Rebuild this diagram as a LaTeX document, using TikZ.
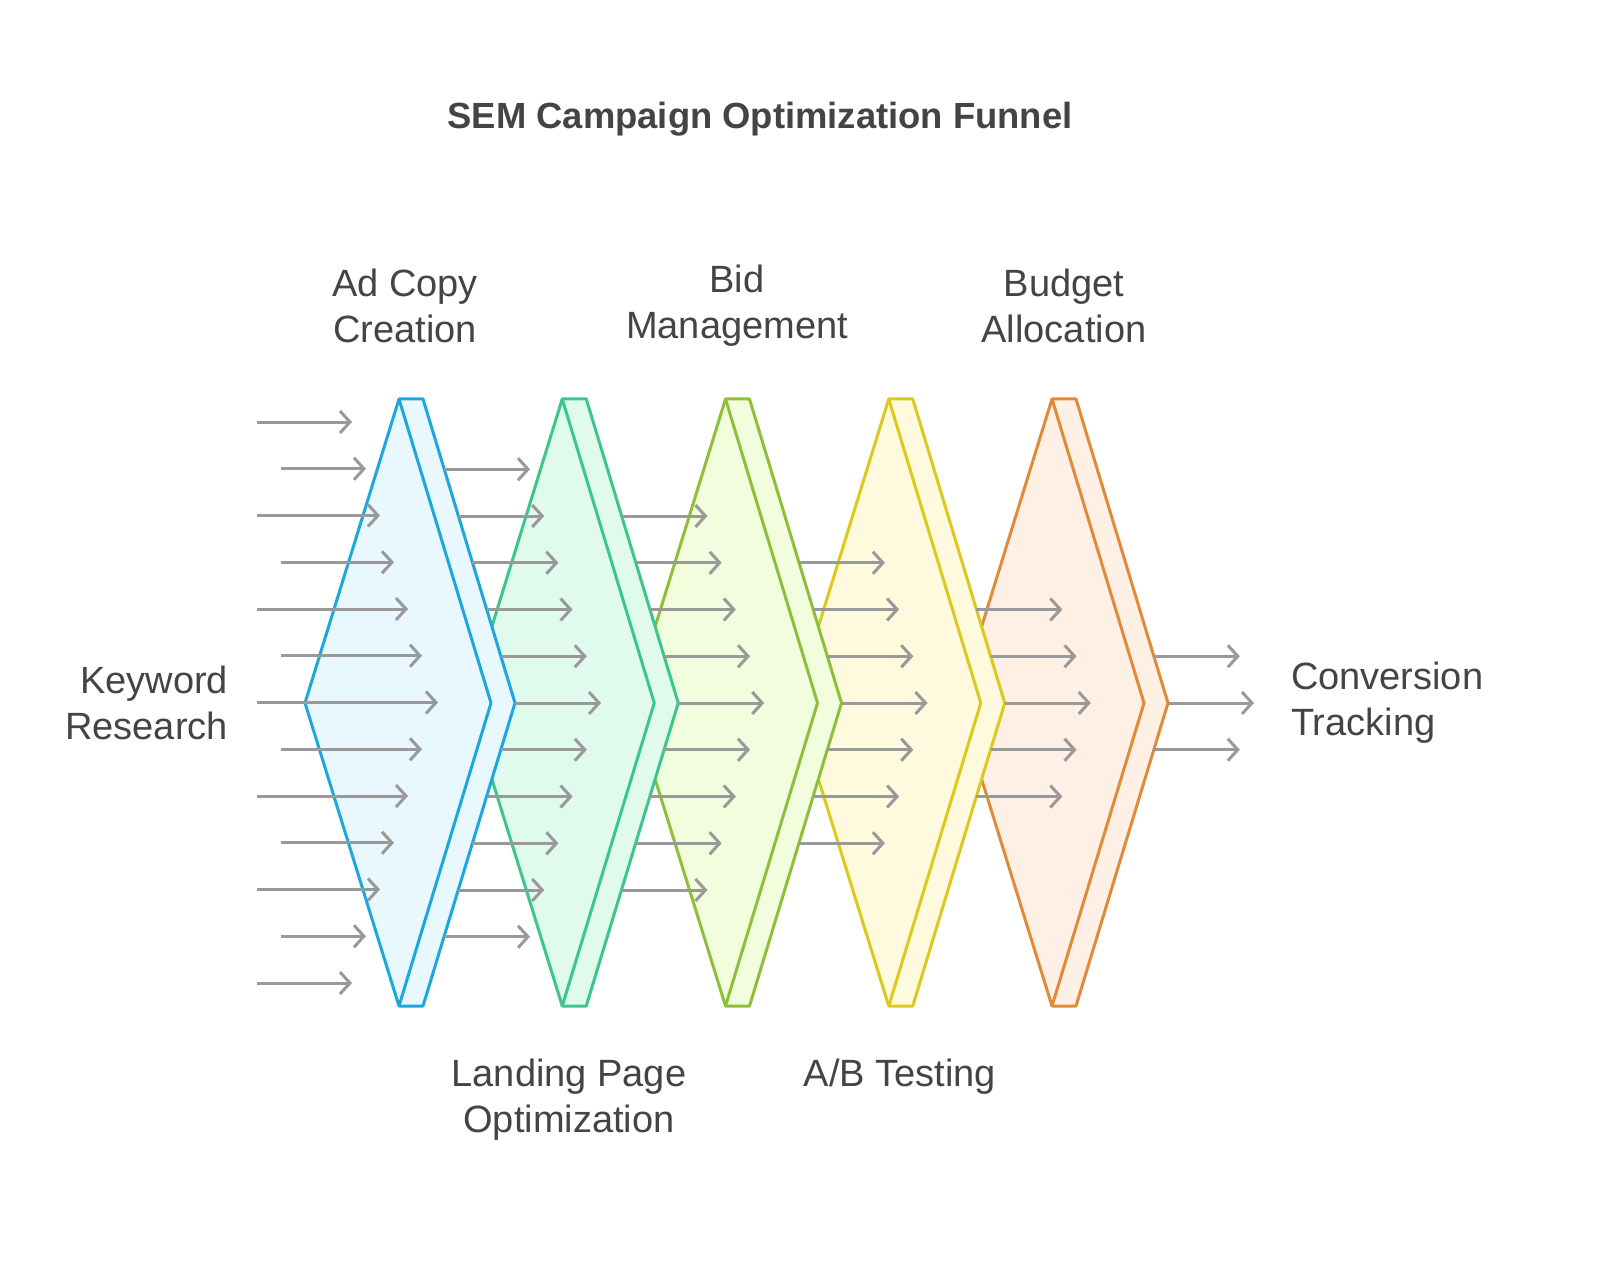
\documentclass[tikz,border=0pt]{standalone}
\usepackage{fontspec}
\setmainfont{Liberation Sans}
\usetikzlibrary{arrows.meta}
\definecolor{txt}{HTML}{444444}
\definecolor{arr}{HTML}{999999}
\definecolor{s1}{HTML}{1EA7DC}\definecolor{f1}{HTML}{E8F8FE}
\definecolor{s2}{HTML}{3CC68A}\definecolor{f2}{HTML}{E0FBEE}
\definecolor{s3}{HTML}{8DBF3A}\definecolor{f3}{HTML}{F1FDDD}
\definecolor{s4}{HTML}{DEC81B}\definecolor{f4}{HTML}{FFFADD}
\definecolor{s5}{HTML}{E08A3A}\definecolor{f5}{HTML}{FEF0E4}
\tikzset{
  flow/.style={draw=arr,line width=1.5pt,-{Straight Barb[length=5pt,width=11pt]}},
  lbl/.style={text=txt,font=\fontsize{19}{23}\selectfont,align=center},
}
\begin{document}
\begin{tikzpicture}[x=0.5pt,y=-0.5pt]
\useasboundingbox (0,0) rectangle (1600,1267);
\node[text=txt,font=\fontsize{18.2}{23}\selectfont\bfseries] (title) at (760,119) {SEM Campaign Optimization Funnel};
% chevrons, drawn last-first
\foreach \k/\c in {4/5,3/4,2/3,1/2,0/1}{
  \pgfmathsetmacro{\xt}{399+163.25*\k}
  \pgfmathsetmacro{\xl}{\xt-94}
  \pgfmathsetmacro{\xr}{\xt+92}
  \draw[line width=1.5pt,draw=s\c,fill=f\c,line join=round]
    (\xl,703) -- (\xt,399) -- (\xt+24,399) -- (\xr+24,703) -- (\xt+24,1006) -- (\xt,1006) -- cycle;
  \draw[line width=1.5pt,draw=s\c,line join=round]
    (\xt,399) -- (\xr,703) -- (\xt,1006);
}
% column 1
\foreach \r in {0,...,12}{
  \pgfmathsetmacro{\y}{422+46.75*\r}
  \pgfmathtruncatemacro{\d}{abs(\r-6)}
  \pgfmathsetmacro{\xs}{mod(\r,2)==0 ? 257 : 281}
  \pgfmathsetmacro{\xe}{352+14*(6-\d)+(\d==0?2:0)}
  \draw[flow] (\xs,\y) -- (\xe,\y);
}
% other columns
\foreach \k/\n in {0/5,1/4,2/3,3/2,4/1}{
  \foreach \r in {-\n,...,\n}{
    \pgfmathsetmacro{\y}{703+46.75*\r}
    \pgfmathsetmacro{\xo}{515+163.25*\k}
    \pgfmathsetmacro{\xs}{\xo-0.3036*abs(46.75*\r)}
    \draw[flow] (\xs,\y) -- (\xs+86,\y);
  }
}
\node[lbl] (a) at (405,306) {Ad Copy\\Creation};
\node[lbl] (b) at (737,306) {Bid\\Management};
\node[lbl] (c) at (1064,306) {Budget\\Allocation};
\node[lbl] (d) at (569,1100) {Landing Page\\Optimization};
\node[lbl] (e) at (900,1077) {A/B Testing};
\node[lbl,align=right,anchor=east] (k) at (235,703) {Keyword\\Research};
\node[lbl,align=left,anchor=west] (t) at (1284,703) {Conversion\\Tracking};
\end{tikzpicture}
\end{document}
